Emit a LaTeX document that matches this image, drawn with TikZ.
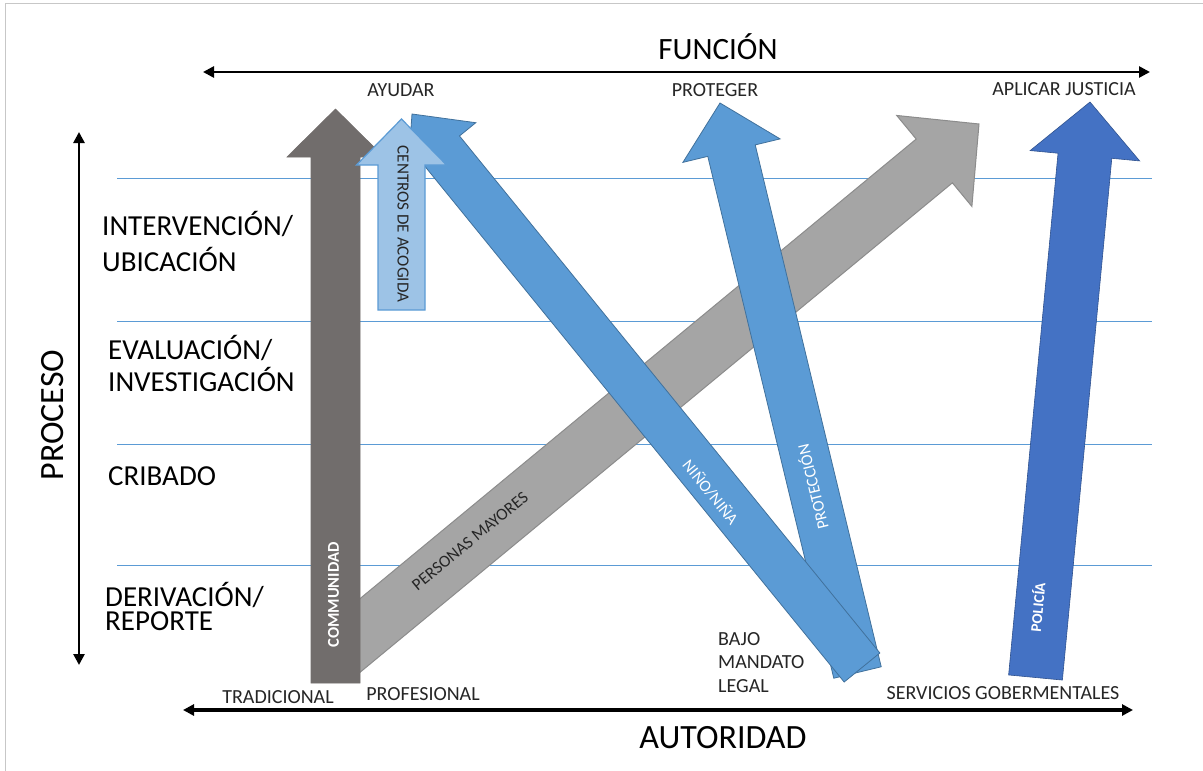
\documentclass[tikz,border=0pt]{standalone}
\usepackage{fontspec}
\setmainfont{Carlito}
\usetikzlibrary{calc,arrows.meta}
\definecolor{gridblue}{HTML}{5B9BD5}
\definecolor{communfill}{HTML}{716D6C}
\definecolor{centrosfill}{HTML}{9DC3E6}
\definecolor{midblue}{HTML}{5B9BD5}
\definecolor{midblueline}{HTML}{41719C}
\definecolor{darkblue}{HTML}{4472C4}
\definecolor{darkblueline}{HTML}{2F528F}
\definecolor{grayfill}{HTML}{A5A5A5}
\definecolor{grayline}{HTML}{8C8C8C}
\definecolor{txtdark}{HTML}{262626}
\newcommand\fatarr[7]{%
  \coordinate (#1s) at #2; \coordinate (#1t) at #3;
  \coordinate (#1b) at ($(#1t)!#6!(#1s)$);
  \draw[#7] ($(#1s)!#4!90:(#1t)$) -- ($(#1b)!#4!90:(#1t)$) -- ($(#1b)!#5!90:(#1t)$)
    -- (#1t) -- ($(#1b)!#5!-90:(#1t)$) -- ($(#1b)!#4!-90:(#1t)$) -- ($(#1s)!#4!-90:(#1t)$) -- cycle;}
\begin{document}
\begin{tikzpicture}[x=1pt,y=-1pt,
  axisarrow/.style={line width=2.6pt,{Triangle[length=11pt,width=11pt]}-{Triangle[length=11pt,width=11pt]}},
  gridline/.style={gridblue,line width=0.9pt},
  small/.style={font=\fontsize{20}{23.5}\selectfont,text=txtdark,inner sep=0pt},
  stage/.style={font=\fontsize{29}{33}\selectfont,inner sep=0pt,anchor=base west},
  title/.style={font=\fontsize{34}{38}\selectfont,inner sep=0pt},
  ontext/.style={font=\fontsize{16.5}{19}\selectfont,text=white,inner sep=0pt},
  ondark/.style={font=\fontsize{17}{20}\selectfont,text=txtdark,inner sep=0pt}]
\useasboundingbox (0,0) rectangle (1203,771);
\fill[white] (0,0) rectangle (1203,771);
\draw[black!22,line width=1pt] (5,771) -- (5,3) -- (1203,3);
% grid lines
\foreach \yy/\nm in {178/ga,321/gb,444/gc,565/gd}{
  \coordinate (\nm l) at (117,\yy); \coordinate (\nm r) at (1152,\yy);
  \draw[gridline] (\nm l) -- (\nm r);}
% axes
\coordinate (fl) at (203,72); \coordinate (fr) at (1150,72);
\draw[axisarrow] (fl) -- (fr);
\coordinate (al) at (183,710); \coordinate (ar) at (1133,710);
\draw[axisarrow,line width=3.2pt] (al) -- (ar);
\coordinate (pt) at (79,132); \coordinate (pb) at (79,665);
\draw[axisarrow] (pt) -- (pb);
% titles
\node[title,font=\fontsize{31}{36}\selectfont] (funcion) at (718,47) {FUNCIÓN};
\node[title] (autoridad) at (723,738) {AUTORIDAD};
\node[title,rotate=90] (proceso) at (53,415) {PROCESO};
% stage labels
\node[stage] (s1a) at (102,235) {INTERVENCIÓN/};
\node[stage] (s1b) at (102,271) {UBICACIÓN};
\node[stage] (s2a) at (108,359) {EVALUACIÓN/};
\node[stage] (s2b) at (108,391) {INVESTIGACIÓN};
\node[stage] (s3) at (108,485) {CRIBADO};
\node[stage] (s4a) at (105,606) {DERIVACIÓN/};
\node[stage] (s4b) at (105,630) {REPORTE};
% fat arrows
\fatarr{pm}{(340,652)}{(979,124)}{28.4pt}{59pt}{58pt}{fill=grayfill,draw=grayline,line width=1pt}
\fatarr{pr}{(857.5,672.5)}{(720,103)}{24.4pt}{50pt}{49pt}{fill=midblue,draw=midblueline,line width=0.8pt}
\fatarr{ni}{(862,667.5)}{(412,114)}{23pt}{44pt}{47pt}{fill=midblue,draw=midblueline,line width=0.8pt}
\fatarr{co}{(335.5,683)}{(335.5,109)}{24.5pt}{48.5pt}{48pt}{fill=communfill,draw=communfill,line width=0.6pt}
\fatarr{ce}{(401.5,310)}{(401.5,119)}{23.5pt}{45pt}{46pt}{fill=centrosfill,draw=gridblue,line width=1.2pt}
\fatarr{po}{(1035.5,677.5)}{(1090,102)}{27pt}{55pt}{54pt}{fill=darkblue,draw=darkblueline,line width=0.6pt}
% arrow labels
\node[ondark,rotate=39.6] (tpm) at (470,541) {PERSONAS MAYORES};
\node[ontext,rotate=103.6] (tpr) at (812,487) {PROTECCIÓN};
\node[ontext,rotate=-51] (tni) at (711,492) {NIÑO/NIÑA};
\node[ontext,rotate=90,font=\fontsize{16.5}{19}\selectfont\bfseries] (tco) at (333.5,595) {COMMUNIDAD};
\node[ondark,rotate=-90] (tce) at (403,224) {CENTROS DE ACOGIDA};
\node[ontext,rotate=84.6,font=\fontsize{15}{18}\selectfont\bfseries] (tpo) at (1037,607) {POLICÍA};
% top labels
\node[small] (ayudar) at (401,90) {AYUDAR};
\node[small] (proteger) at (715,90) {PROTEGER};
\node[small] (aplicar) at (1064,89) {APLICAR JUSTICIA};
% bottom labels
\node[small] (trad) at (278,697) {TRADICIONAL};
\node[small] (prof) at (423,694) {PROFESIONAL};
\node[small,anchor=north west,align=left] (bajo) at (718,632) {BAJO\\MANDATO\\LEGAL};
\node[small] (serv) at (1003,693) {SERVICIOS GOBERMENTALES};
\end{tikzpicture}
\end{document}
